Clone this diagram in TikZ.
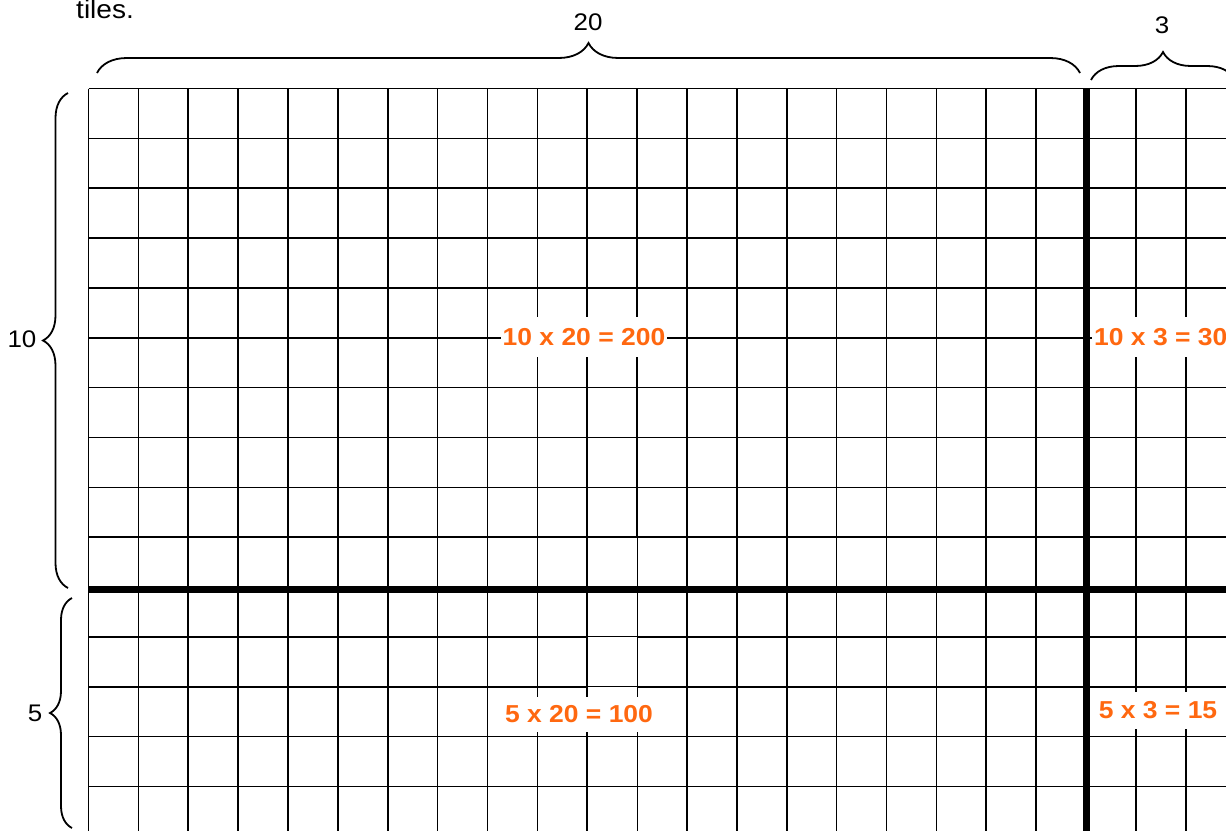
\documentclass[tikz,border=0pt]{standalone}
\usepackage{fontspec}
\setmainfont[FakeStretch=1.08]{Liberation Sans}
\usetikzlibrary{decorations.pathreplacing}
\definecolor{lblorange}{RGB}{255,104,16}
\begin{document}
\begin{tikzpicture}[x=1pt,y=-1pt,
  gridline/.style={line width=1.6pt},
  thickline/.style={line width=7pt},
  thinline/.style={line width=0.8pt},
  bracestyle/.style={decorate, decoration={brace, amplitude=#1}, line width=1.8pt},
  dimlabel/.style={font=\fontsize{24}{28}\selectfont, text=black, inner sep=0pt},
  arealabel/.style={font=\fontsize{24.5}{28}\selectfont\bfseries, text=lblorange, fill=white, inner xsep=2pt, inner ysep=0pt},
]
\useasboundingbox (0,0) rectangle (1226,830);
\begin{scope}
  \clip (0,0) rectangle (1226,830);
  % grid
  \foreach \i in {0,...,23} \draw[gridline] ({88.5+49.875*\i},88.5) -- ({88.5+49.875*\i},840);
  \foreach \j in {0,...,15} \draw[gridline] (88.5,{88.5+49.85*\j}) -- (1240,{88.5+49.85*\j});
  % thinner lines in one column of the lower part
  \fill[white] (588.3,538.2) rectangle (637.9,840);
  \draw[thinline] (637.1,537.2) -- (637.1,840);
  \foreach \j in {11,...,15} \draw[thinline] (587.25,{88.5+49.85*\j}) -- (637.1,{88.5+49.85*\j});
  % thick dividing lines
  \draw[thickline] (88.5,589.5) -- (1240,589.5);
  \draw[thickline] (1086,87.8) -- (1086,840);
  % area labels
  \node[arealabel, minimum height=40pt] (a1) at (584,337) {10 x 20 = 200};
  \node[arealabel, minimum height=40pt, anchor=west] (a2) at (1092,337) {10 x 3 = 30};
  \node[arealabel, minimum height=35pt] (a3) at (579,714.5) {5 x 20 = 100};
  \node[arealabel, minimum height=37pt] (a4) at (1158,710.5) {5 x 3 = 15};
  % braces
  \coordinate (b20s) at (97,73);   \coordinate (b20e) at (1080,73);
  \coordinate (b3s) at (1091,80);  \coordinate (b3e) at (1235,80);
  \coordinate (b10s) at (68,588);  \coordinate (b10e) at (68,93);
  \coordinate (b5s) at (72,828);   \coordinate (b5e) at (72,598);
  \draw[bracestyle=30pt] (b20s) -- (b20e);
  \draw[bracestyle=28pt] (b3s) -- (b3e);
  \draw[bracestyle=25pt] (b10s) -- (b10e);
  \draw[bracestyle=22pt] (b5s) -- (b5e);
  % dimension labels
  \node[dimlabel] (l20) at (588,22) {20};
  \node[dimlabel] (l3) at (1162,25) {3};
  \node[dimlabel] (l10) at (22,339) {10};
  \node[dimlabel] (l5) at (35,713) {5};
  \node[dimlabel, font=\fontsize{26}{30}\selectfont, anchor=base west] (tiles) at (76,18) {tiles.};
\end{scope}
\end{tikzpicture}
\end{document}
